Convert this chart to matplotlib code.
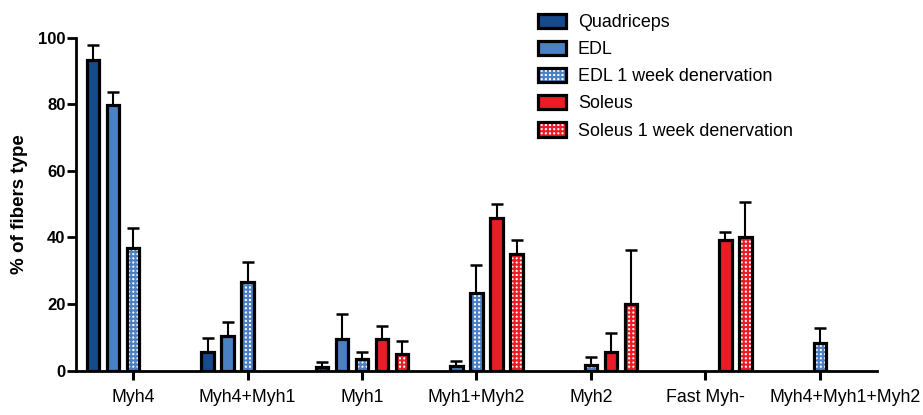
import numpy as np
import matplotlib
matplotlib.use("Agg")
import matplotlib.pyplot as plt
from matplotlib.legend_handler import HandlerTuple
from matplotlib.patches import Patch
from matplotlib.transforms import ScaledTranslation

plt.rcParams['font.family'] = ['Liberation Sans', 'DejaVu Sans']
plt.rcParams['hatch.linewidth'] = 1.5

categories = ["Myh4", "Myh4+Myh1", "Myh1", "Myh1+Myh2", "Myh2", "Fast Myh-", "Myh4+Myh1+Myh2"]
series_names = ["Quadriceps", "EDL", "EDL 1 week denervation", "Soleus", "Soleus 1 week denervation"]
nan = np.nan
quadriceps = [93.2, 5.6, 1.0, nan, nan, nan, nan]
quadriceps_err = [4.7, 4.1, 1.6, nan, nan, nan, nan]
edl = [79.9, 10.5, 9.5, 1.5, nan, nan, nan]
edl_err = [3.8, 4.0, 7.4, 1.4, nan, nan, nan]
edl_den = [36.7, 26.5, 3.4, 23.2, 1.6, nan, 8.3]
edl_den_err = [6.2, 6.2, 2.2, 8.5, 2.4, nan, 4.6]
soleus = [nan, nan, 9.4, 45.7, 5.6, 39.2, nan]
soleus_err = [nan, nan, 3.9, 4.3, 5.6, 2.5, nan]
soleus_den = [nan, nan, 5.0, 35.0, 20.0, 40.0, nan]
soleus_den_err = [nan, nan, 3.9, 4.1, 16.2, 10.7, nan]
yticks = [0, 20, 40, 60, 80, 100]

values = [quadriceps, edl, edl_den, soleus, soleus_den]
errors = [quadriceps_err, edl_err, edl_den_err, soleus_err, soleus_den_err]
fills = ["#174a8b", "#4a80c4", "white", "#e81d25", "white"]
hatch_cols = [None, None, "#4a80c4", None, "#e81d25"]

fig = plt.figure(figsize=(9.23, 4.15), dpi=100)
ax = fig.add_axes([76/923, 1-370.5/415, (877-76)/923, (370.5-37.7)/415])

x = np.arange(len(categories))
step = 0.175
width = 0.108
edge_lw = 2.3
handles = []
for i, (vals, errs) in enumerate(zip(values, errors)):
    pos = x + (i - 2) * step
    vals = np.array(vals, dtype=float)
    errs = np.array(errs, dtype=float)
    ax.errorbar(pos, vals, yerr=[np.zeros_like(errs), errs], fmt='none',
                ecolor='black', elinewidth=1.5, capsize=4, capthick=1.8, zorder=2)
    if hatch_cols[i] is None:
        ax.bar(pos, vals, width, color=fills[i], edgecolor='black', linewidth=edge_lw, zorder=3)
        h = Patch(facecolor=fills[i], edgecolor='black', linewidth=edge_lw)
    else:
        ax.bar(pos, vals, width, color='white', edgecolor=hatch_cols[i], linewidth=0,
               hatch='++++', zorder=3)
        ax.bar(pos, vals, width, color='none', edgecolor='black', linewidth=edge_lw, zorder=4)
        h = (Patch(facecolor='white', edgecolor=hatch_cols[i], linewidth=0, hatch='++++'),
             Patch(facecolor='none', edgecolor='black', linewidth=edge_lw))
    handles.append(h)

ax.set_xlim(-0.5, len(categories) - 0.5)
ax.set_ylim(0, 100)
ax.set_yticks(yticks)
ax.set_yticklabels([str(t) for t in yticks], fontsize=12, fontweight='bold')
ax.set_xticks(x)
ax.set_xticklabels(categories, fontsize=12.8)
ax.tick_params(axis='y', direction='out', length=6.5, width=2, pad=1)
ax.tick_params(axis='x', direction='out', length=6.5, width=2.2, pad=7)
for s in ['top', 'right']:
    ax.spines[s].set_visible(False)
for s in ['left', 'bottom']:
    ax.spines[s].set_linewidth(2.0)
lab = ax.get_xticklabels()[-1]
lab.set_transform(lab.get_transform() + ScaledTranslation(0.25, 0, fig.dpi_scale_trans))

ax.set_ylabel("% of fibers type", fontsize=13.5, fontweight='bold', labelpad=7)

fig.legend(handles, series_names, loc='upper left', bbox_to_anchor=(525/923, 1-1/415),
           frameon=False, fontsize=12.9, handlelength=1.6, handleheight=0.85,
           handletextpad=0.65, labelspacing=0.55, borderpad=0.2,
           handler_map={tuple: HandlerTuple(ndivide=1, pad=0)})

fig.savefig("out.png", dpi=100)
